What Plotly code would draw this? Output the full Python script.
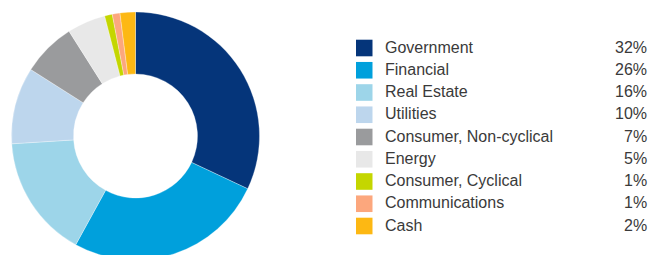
import plotly.graph_objects as go

categories = ["Government", "Financial", "Real Estate", "Utilities",
              "Consumer, Non-cyclical", "Energy", "Consumer, Cyclical",
              "Communications", "Cash"]
weights = [32, 26, 16, 10, 7, 5, 1, 1, 2]
pct_labels = ["32%", "26%", "16%", "10%", "7%", "5%", "1%", "1%", "2%"]
colors = ["#05357a", "#00a0dc", "#9dd5e9", "#bdd6ed", "#9a9b9d",
          "#e8e8e8", "#c4d600", "#fca77d", "#fdb813"]

W, H = 659, 255
OFF = 8  # page body margin offset

fig = go.Figure()
# donut: page centre (135.5, 136), radius 124
cx, cy0, r = 135.5 - OFF, 136 - OFF, 124
fig.add_trace(go.Pie(
    labels=categories,
    values=weights,
    hole=0.5,
    sort=False,
    direction="clockwise",
    rotation=0,
    marker=dict(colors=colors, line=dict(color="white", width=0.3)),
    textinfo="none",
    hoverinfo="label+percent",
    showlegend=False,
    domain=dict(x=[(cx - r - 2) / W, (cx + r + 2) / W],
                y=[1 - (cy0 + r) / H, 1 - (cy0 - r) / H]),
))

# custom legend table (page pixel positions)
row0 = 48
step = 22.25
sq_x0, sq_x1 = 356, 372.5
text_x = 382.5
pct_x = 649
font = dict(family="Liberation Sans, Arial, sans-serif", size=16, color="#3a3a3a")
shapes = []
annotations = []
for i, (cat, pct, col) in enumerate(zip(categories, pct_labels, colors)):
    cy = row0 + i * step - OFF
    shapes.append(dict(type="rect", xref="paper", yref="paper",
                       x0=(sq_x0 - OFF) / W, x1=(sq_x1 - OFF) / W,
                       y0=1 - (cy + 8.3) / H, y1=1 - (cy - 8.3) / H,
                       fillcolor=col, line=dict(width=0)))
    annotations.append(dict(xref="paper", yref="paper", x=(text_x - OFF) / W, y=1 - (cy - 1) / H,
                            text=cat, showarrow=False, xanchor="left", yanchor="middle",
                            font=font))
    annotations.append(dict(xref="paper", yref="paper", x=(pct_x - OFF) / W, y=1 - (cy - 1) / H,
                            text=pct, showarrow=False, xanchor="right", yanchor="middle",
                            font=font))

fig.update_layout(
    width=W, height=H,
    margin=dict(l=0, r=0, t=0, b=0),
    paper_bgcolor="white", plot_bgcolor="white",
    shapes=shapes, annotations=annotations,
)
fig.write_html("out.html")
